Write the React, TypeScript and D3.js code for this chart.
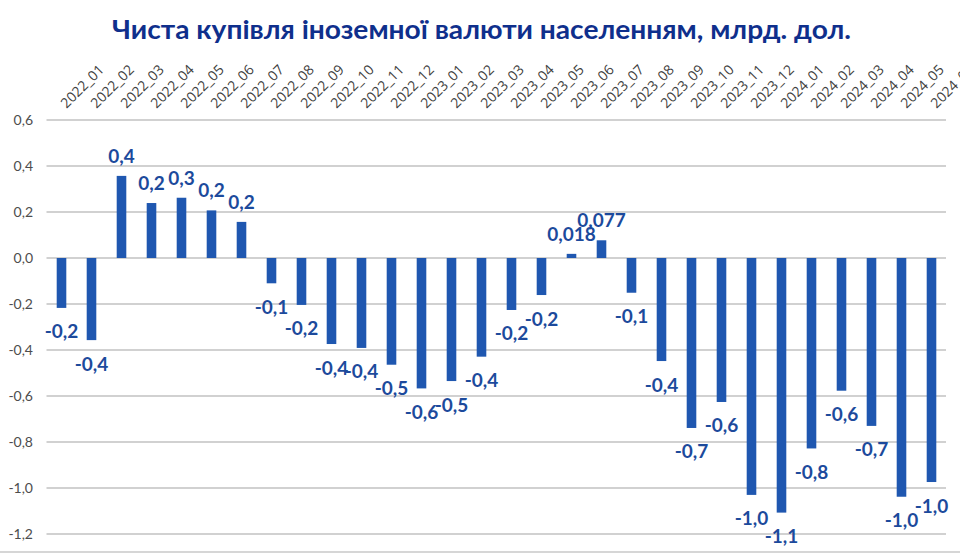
import React from 'react';
import * as d3 from 'd3';

const title = 'Чиста купівля іноземної валюти населенням, млрд. дол.';

const categories = [
  '2022_01', '2022_02', '2022_03', '2022_04', '2022_05', '2022_06', '2022_07', '2022_08', '2022_09', '2022_10',
  '2022_11', '2022_12', '2023_01', '2023_02', '2023_03', '2023_04', '2023_05', '2023_06', '2023_07', '2023_08',
  '2023_09', '2023_10', '2023_11', '2023_12', '2024_01', '2024_02', '2024_03', '2024_04', '2024_05', '2024_06',
];

const values = [
  -0.217, -0.357, 0.357, 0.239, 0.262, 0.207, 0.157, -0.11, -0.204, -0.374,
  -0.391, -0.464, -0.567, -0.535, -0.429, -0.226, -0.161, 0.018, 0.077, -0.151,
  -0.448, -0.739, -0.626, -1.03, -1.107, -0.828, -0.577, -0.73, -1.038, -0.974,
];

const valueLabels = [
  '-0,2', '-0,4', '0,4', '0,2', '0,3', '0,2', '0,2', '-0,1', '-0,2', '-0,4',
  '-0,4', '-0,5', '-0,6', '-0,5', '-0,4', '-0,2', '-0,2', '0,018', '0,077', '-0,1',
  '-0,4', '-0,7', '-0,6', '-1,0', '-1,1', '-0,8', '-0,6', '-0,7', '-1,0', '-1,0',
];

const yTicks = [-1.2, -1.0, -0.8, -0.6, -0.4, -0.2, 0, 0.2, 0.4, 0.6];

const W = 960;
const H = 555;
const FONT = 'Lato, "Open Sans", "Liberation Sans", sans-serif';

export default function App() {
  const x = d3.scaleBand<string>()
    .domain(categories)
    .range([46.5, 946.5])
    .paddingInner(0.68)
    .paddingOuter(0.34);
  const y = d3.scaleLinear().domain([-1.2, 0.6]).range([534, 120]);
  const fmt = (v: number) => v.toFixed(1).replace('.', ',');

  return (
    <svg width={W} height={H} style={{ position: 'absolute', left: 0, top: 0, background: '#fff' }} fontFamily={FONT}>
      <rect x={0} y={0} width={W} height={H} fill="#ffffff" />
      <text x={481.5} y={38.5} textAnchor="middle" fontSize={27} fontWeight={700} fill="#0f2f8c"
        textLength={739} lengthAdjust="spacingAndGlyphs">{title}</text>

      {yTicks.map((t) => (
        <g key={t}>
          <line x1={46.5} x2={946} y1={y(t)} y2={y(t)} stroke="#c2c2c2" strokeWidth={1.4} />
          <text x={33} y={y(t) + 5} textAnchor="end" fontSize={14} fill="#4d4d4d">{fmt(t)}</text>
        </g>
      ))}
      <line x1={0} x2={W} y1={552} y2={552} stroke="#c8c8c8" strokeWidth={1.5} />

      {categories.map((c) => {
        const cx = (x(c) as number) + x.bandwidth() / 2;
        return (
          <text key={c} transform={`translate(${cx + 5},${109}) rotate(-45)`} fontSize={14} fill="#404040"
            fontFamily='"Open Sans", Lato, sans-serif'>{c}</text>
        );
      })}

      {values.map((v, i) => {
        const c = categories[i];
        const bx = x(c) as number;
        const y0 = y(0);
        const yv = y(v);
        return (
          <rect key={c} x={bx} width={x.bandwidth()} y={Math.min(y0, yv)} height={Math.abs(yv - y0)} fill="#1f57b0" />
        );
      })}

      {values.map((v, i) => {
        const c = categories[i];
        const cx = (x(c) as number) + x.bandwidth() / 2;
        const yv = y(v);
        const ly = v >= 0 ? yv - 13 : yv + 30.5;
        return (
          <text key={c} x={cx} y={ly} textAnchor="middle" fontSize={19} fontWeight={700} fill="#1c4a9c">{valueLabels[i]}</text>
        );
      })}
    </svg>
  );
}
